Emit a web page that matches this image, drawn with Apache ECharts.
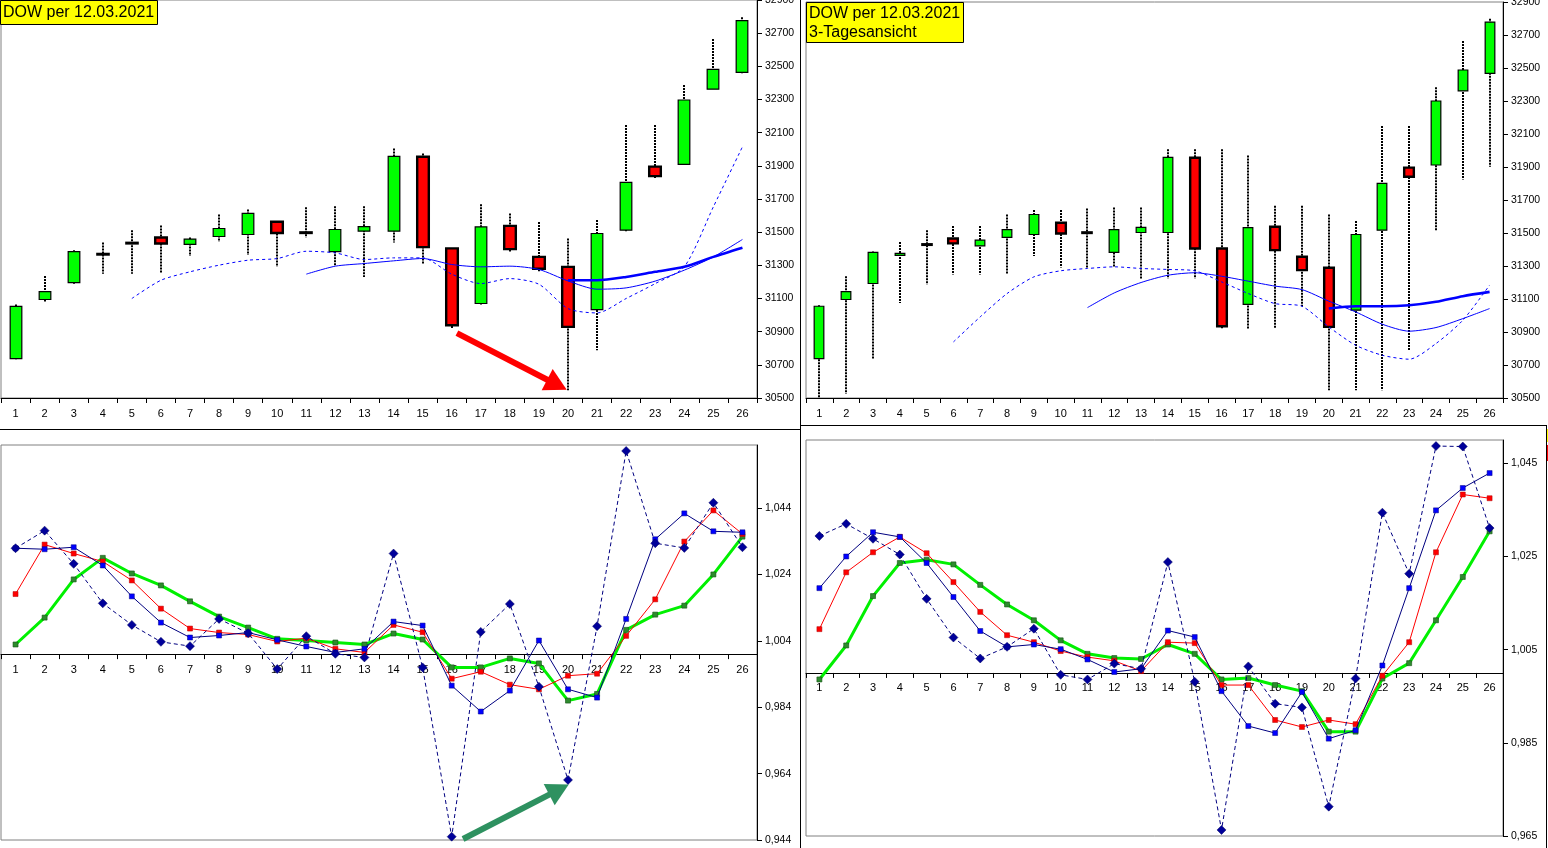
<!DOCTYPE html>
<html>
<head>
<meta charset="utf-8">
<script src="https://cdn.jsdelivr.net/npm/echarts/dist/echarts.min.js"></script>
<style>html,body{margin:0;padding:0;background:#fff;}#c{width:1548px;height:848px;}</style>
</head>
<body>
<div id="c"></div>
<script>
// ---------- DATA ----------
const categories = ['1','2','3','4','5','6','7','8','9','10','11','12','13','14','15','16','17','18','19','20','21','22','23','24','25','26'];

// Day view (top-left)
const dayOpen  = [30737,31094,31196,31365,31434,31468,31426,31474,31486,31563,31500,31383,31506,31506,31955,31402,31070,31538,31351,31291,31033,31512,31895,31909,32362,32464];
const dayClose = [31053,31142,31383,31370,31437,31432,31458,31522,31613,31495,31497,31516,31534,31957,31410,30939,31532,31398,31279,30929,31492,31800,31838,32297,32482,32776];
const dayLow   = [30733,31082,31188,31249,31249,31255,31357,31442,31363,31291,31468,31295,31229,31438,31307,30919,31064,31377,31265,30546,30788,31505,31824,31905,32358,32458];
const dayHigh  = [31064,31235,31391,31438,31512,31540,31468,31607,31637,31565,31651,31657,31657,32005,31975,31405,31669,31613,31561,31462,31573,32146,32146,32388,32665,32796];
const dayMaDashed = [null,null,null,null,31100,31210,31261,31301,31331,31341,31385,31375,31335,31345,31345,31247,31190,31220,31186,31039,31013,31100,31190,31291,31653,32015];
const dayMaThin   = [null,null,null,null,null,null,null,null,null,null,31247,31295,31311,31327,31341,31305,31291,31295,31275,31206,31156,31164,31205,31271,31351,31456];
const dayMaThick  = [null,null,null,null,null,null,null,null,null,null,null,null,null,null,null,null,null,null,null,31210,31210,31230,31261,31291,31351,31406];

// 3-day view (top-right)
const triOpen  = [30739,31097,31194,31364,31430,31467,31422,31473,31491,31562,31505,31382,31503,31503,31956,31406,31068,31538,31356,31289,31032,31517,31896,31912,32361,32468];
const triClose = [31056,31145,31382,31376,31433,31437,31457,31521,31612,31497,31501,31521,31534,31958,31406,30935,31532,31396,31275,30931,31491,31801,31841,32300,32488,32778];
const triLow   = [30502,30526,30733,31076,31188,31248,31248,31254,31360,31291,31289,31291,31224,31224,31224,30921,30921,30921,31056,30547,30547,30547,30789,31511,31825,31902];
const triHigh  = [31062,31238,31388,31445,31517,31542,31542,31612,31639,31639,31649,31655,31655,32007,32007,32007,31970,31665,31665,31612,31572,32148,32148,32383,32664,32798];
const triMaDashed = [null,null,null,null,null,30840,30992,31133,31234,31271,31285,31295,31285,31279,31271,31204,31133,31072,31056,30931,30820,30759,30735,30830,30971,31184];
const triMaThin   = [null,null,null,null,null,null,null,null,null,null,31048,31137,31200,31244,31259,31238,31208,31178,31157,31087,31022,30947,30905,30927,30981,31042];
const triMaThick  = [null,null,null,null,null,null,null,null,null,null,null,null,null,null,null,null,null,null,null,31042,31056,31056,31062,31083,31117,31143];

// Ratio indicators (bottom-left, day view)
const blDashed = [1.0319,1.0372,1.0272,1.0153,1.0088,1.0037,1.0024,1.0106,1.0063,0.9955,1.0054,1.0001,0.9990,1.0303,0.9960,0.9450,1.0067,1.0151,0.9902,0.9621,1.0084,1.0612,1.0334,1.0320,1.0456,1.0322];
const blBlue   = [1.0319,1.0316,1.0322,1.0267,1.0174,1.0095,1.0050,1.0056,1.0065,1.0043,1.0023,1.0005,1.0016,1.0098,1.0086,0.9905,0.9827,0.9890,1.0041,0.9894,0.9869,1.0106,1.0346,1.0424,1.0370,1.0367];
const blRed    = [1.0181,1.0330,1.0303,1.0279,1.0222,1.0137,1.0077,1.0065,1.0059,1.0038,1.0048,1.0016,1.0005,1.0088,1.0066,0.9926,0.9947,0.9908,0.9894,0.9935,0.9941,1.0055,1.0165,1.0339,1.0433,1.0362];
const blGreen  = [1.0029,1.0110,1.0225,1.0290,1.0243,1.0207,1.0159,1.0113,1.0080,1.0046,1.0041,1.0035,1.0029,1.0062,1.0044,0.9960,0.9960,0.9987,0.9972,0.9860,0.9880,1.0073,1.0119,1.0146,1.0240,1.0354];

// Ratio indicators (bottom-right, 3-day view)
const brDashed = [1.0294,1.0320,1.0288,1.0254,1.0159,1.0076,1.0031,1.0056,1.0095,0.9996,0.9986,1.0020,1.0009,1.0238,0.9981,0.9663,1.0014,0.9934,0.9926,0.9713,0.9988,1.0344,1.0213,1.0487,1.0486,1.0311];
const brBlue   = [1.0182,1.0250,1.0302,1.0292,1.0236,1.0163,1.0090,1.0056,1.0061,1.0051,1.0029,1.0002,1.0009,1.0091,1.0077,0.9961,0.9886,0.9871,0.9959,0.9859,0.9877,1.0016,1.0182,1.0349,1.0397,1.0429];
const brRed    = [1.0094,1.0216,1.0259,1.0292,1.0257,1.0195,1.0131,1.0081,1.0066,1.0047,1.0034,1.0026,1.0004,1.0066,1.0064,0.9974,0.9974,0.9899,0.9884,0.9899,0.9890,0.9994,1.0066,1.0259,1.0383,1.0375];
const brGreen  = [0.9986,1.0059,1.0165,1.0236,1.0243,1.0233,1.0189,1.0147,1.0113,1.0070,1.0041,1.0032,1.0030,1.0061,1.0041,0.9986,0.9989,0.9974,0.9961,0.9874,0.9874,0.9988,1.0021,1.0113,1.0206,1.0304];

// Axis ranges / ticks
const priceMin = 30500, priceMax = 32900, priceStep = 200;
const blMin = 0.944, blMax = 1.063, brMin = 0.965, brMax = 1.05, ratioStep = 0.02, ratioBase = 1.0;

// Annotation arrows (in data units: category index, value)
const redArrow   = [[15.18, 30891], [18.62, 30580]];
const greenArrow = [[15.39, 0.9443], [18.69, 0.9592]];

const titleLeft  = 'DOW per 12.03.2021';
const titleRight = 'DOW per 12.03.2021\n3-Tagesansicht';

// ---------- CHART ----------
const FONT = 'Liberation Sans, Arial, sans-serif';
const G = [
  {left: 1,   top: 0,   width: 756, height: 398},
  {left: 806, top: 2,   width: 697, height: 396},
  {left: 1,   top: 445, width: 756, height: 395},
  {left: 806, top: 440, width: 697, height: 396}
];

function candleData(o, c, l, h) {
  return o.map((v, i) => [i, o[i], c[i], l[i], h[i]]);
}
function candleRender(ratio) {
  return function (params, api) {
    const i = api.value(0);
    const o = api.value(1), c = api.value(2), l = api.value(3), h = api.value(4);
    const pO = api.coord([i, o]), pC = api.coord([i, c]);
    const pL = api.coord([i, l]), pH = api.coord([i, h]);
    const w = api.size([1, 0])[0] * ratio;
    const x = Math.round(pO[0]);
    const top = Math.min(pO[1], pC[1]), bot = Math.max(pO[1], pC[1]);
    const up = c >= o;
    const flat = (bot - top) < 1.5;
    return {
      type: 'group',
      children: [
        {type: 'line', shape: {x1: x, y1: pH[1], x2: x, y2: pL[1]},
         style: {stroke: '#000', lineWidth: 2, lineDash: [2, 1]}},
        {type: 'rect', shape: {x: x - w / 2, y: top, width: w, height: Math.max(bot - top, 1)},
         style: {fill: flat ? '#000' : (up ? '#00FF00' : '#FF0000'), stroke: '#000',
                 lineWidth: flat ? 2 : (up ? 1.2 : 2.4)}}
      ]
    };
  };
}

function catAxis(gi, opts) {
  return Object.assign({
    type: 'category', gridIndex: gi, data: categories, boundaryGap: true, position: 'bottom',
    axisLine: {show: true, onZero: false, lineStyle: {color: '#000', width: 1}},
    axisTick: {show: true, alignWithLabel: false, length: 5, lineStyle: {color: '#000'}},
    axisLabel: {interval: 0, color: '#000', fontFamily: FONT, fontSize: 11, margin: 10},
    splitLine: {show: false}
  }, opts || {});
}
function valAxis(gi, min, max, step, fmt, hideMax) {
  return {
    type: 'value', gridIndex: gi, position: 'right', min: min, max: max, interval: step, scale: true,
    axisLine: {show: true, onZero: false, lineStyle: {color: '#000', width: 1}},
    axisTick: {show: true, length: 5, lineStyle: {color: '#000'}},
    axisLabel: {color: '#000', fontFamily: FONT, fontSize: 10.5, margin: 8, formatter: fmt,
                showMaxLabel: !hideMax, showMinLabel: true},
    splitLine: {show: false}
  };
}
const priceFmt = v => String(Math.round(v));
const ratioFmt = v => v.toFixed(3).replace('.', ',');

const blOffset = -(ratioBase - blMin) / (blMax - blMin) * G[2].height;
const brOffset = -(ratioBase - brMin) / (brMax - brMin) * G[3].height;

function maLine(name, xi, yi, data, width, dashed) {
  return {
    name: name, type: 'line', xAxisIndex: xi, yAxisIndex: yi, data: data,
    showSymbol: false, symbol: 'none', smooth: 0.25, connectNulls: false, silent: true,
    lineStyle: {color: '#0000FF', width: width, type: dashed ? [3, 3] : 'solid'}, z: 3
  };
}
function ratioLine(name, xi, yi, data, kind) {
  const s = {name: name, type: 'line', xAxisIndex: xi, yAxisIndex: yi, data: data, silent: true, showSymbol: true};
  if (kind === 'dashed') {
    s.symbol = 'diamond'; s.symbolSize = 9;
    s.lineStyle = {color: '#000080', width: 1, type: [4, 3]};
    s.itemStyle = {color: '#00009A', borderColor: '#000060', borderWidth: 0.5};
    s.z = 6;
  } else if (kind === 'blue') {
    s.symbol = 'rect'; s.symbolSize = 5;
    s.lineStyle = {color: '#000080', width: 1};
    s.itemStyle = {color: '#0000FF', borderColor: '#000080', borderWidth: 0.5};
    s.z = 5;
  } else if (kind === 'red') {
    s.symbol = 'rect'; s.symbolSize = 5;
    s.lineStyle = {color: '#FF0000', width: 1};
    s.itemStyle = {color: '#FF0000', borderColor: '#B00000', borderWidth: 0.5};
    s.z = 4;
  } else {
    s.symbol = 'rect'; s.symbolSize = 5;
    s.lineStyle = {color: '#00F000', width: 3};
    s.itemStyle = {color: '#2E8B2E', borderColor: '#145214', borderWidth: 0.6};
    s.z = 3;
  }
  return s;
}
function arrowSeries(xi, yi, pts, color, width, size) {
  return {
    type: 'line', xAxisIndex: xi, yAxisIndex: yi, data: pts, silent: true,
    showSymbol: false, symbol: 'none', lineStyle: {opacity: 0, width: 0}, z: 10,
    markLine: {
      silent: true, animation: false, symbol: ['none', 'triangle'], symbolSize: size,
      label: {show: false}, lineStyle: {color: color, width: width, type: 'solid', opacity: 1},
      emphasis: {disabled: true},
      data: [[{coord: pts[0]}, {coord: pts[1]}]]
    }
  };
}

const option = {
  animation: false,
  backgroundColor: '#ffffff',
  textStyle: {fontFamily: FONT},
  title: [
    {text: titleLeft, left: 0, top: 0, backgroundColor: '#FFFF00', borderColor: '#000', borderWidth: 1,
     padding: [3, 4, 3, 3], textStyle: {fontSize: 16, fontWeight: 'normal', color: '#000', fontFamily: FONT, lineHeight: 19}},
    {text: titleRight, left: 806, top: 2, backgroundColor: '#FFFF00', borderColor: '#000', borderWidth: 1,
     padding: [2, 4, 1, 3], textStyle: {fontSize: 16, fontWeight: 'normal', color: '#000', fontFamily: FONT, lineHeight: 19}}
  ],
  grid: G.map(g => Object.assign({show: true, borderColor: '#808080', borderWidth: 1, backgroundColor: 'transparent',
                                   containLabel: false, outerBoundsMode: 'none'}, g)),
  xAxis: [
    catAxis(0),
    catAxis(1),
    catAxis(2, {offset: blOffset}),
    catAxis(3, {offset: brOffset}),
    {type: 'value', gridIndex: 0, min: -0.5, max: categories.length - 0.5, show: false},
    {type: 'value', gridIndex: 2, min: -0.5, max: categories.length - 0.5, show: false}
  ],
  yAxis: [
    valAxis(0, priceMin, priceMax, priceStep, priceFmt, false),
    valAxis(1, priceMin, priceMax, priceStep, priceFmt, false),
    valAxis(2, blMin, blMax, ratioStep, ratioFmt, true),
    valAxis(3, brMin, brMax, ratioStep, ratioFmt, true)
  ],
  series: [
    // top-left
    maLine('dayMaDashed', 0, 0, dayMaDashed, 1, true),
    maLine('dayMaThin', 0, 0, dayMaThin, 1, false),
    {type: 'custom', name: 'dayCandles', xAxisIndex: 0, yAxisIndex: 0, renderItem: candleRender(0.4),
     data: candleData(dayOpen, dayClose, dayLow, dayHigh), encode: {x: 0, y: [1, 2, 3, 4]}, z: 2, silent: true},
    maLine('dayMaThick', 0, 0, dayMaThick, 2.6, false),
    arrowSeries(4, 0, redArrow, '#FF0000', 6, [24, 22]),
    // top-right
    maLine('triMaDashed', 1, 1, triMaDashed, 1, true),
    maLine('triMaThin', 1, 1, triMaThin, 1, false),
    {type: 'custom', name: 'triCandles', xAxisIndex: 1, yAxisIndex: 1, renderItem: candleRender(0.36),
     data: candleData(triOpen, triClose, triLow, triHigh), encode: {x: 0, y: [1, 2, 3, 4]}, z: 2, silent: true},
    maLine('triMaThick', 1, 1, triMaThick, 2.6, false),
    // bottom-left
    ratioLine('blGreen', 2, 2, blGreen, 'green'),
    ratioLine('blRed', 2, 2, blRed, 'red'),
    ratioLine('blBlue', 2, 2, blBlue, 'blue'),
    ratioLine('blDashed', 2, 2, blDashed, 'dashed'),
    arrowSeries(5, 2, greenArrow, '#2E9160', 6, [24, 22]),
    // bottom-right
    ratioLine('brGreen', 3, 3, brGreen, 'green'),
    ratioLine('brRed', 3, 3, brRed, 'red'),
    ratioLine('brBlue', 3, 3, brBlue, 'blue'),
    ratioLine('brDashed', 3, 3, brDashed, 'dashed')
  ],
  graphic: [
    {type: 'line', silent: true, shape: {x1: 800.5, y1: 0, x2: 800.5, y2: 848}, style: {stroke: '#000', lineWidth: 1}},
    {type: 'line', silent: true, shape: {x1: 0, y1: 429.5, x2: 800, y2: 429.5}, style: {stroke: '#000', lineWidth: 1}},
    {type: 'line', silent: true, shape: {x1: 800, y1: 425.5, x2: 1546, y2: 425.5}, style: {stroke: '#000', lineWidth: 1}},
    {type: 'line', silent: true, shape: {x1: 1546.5, y1: 425, x2: 1546.5, y2: 848}, style: {stroke: '#000', lineWidth: 1}},
    {type: 'rect', silent: true, shape: {x: 1547, y: 429, width: 1, height: 13}, style: {fill: '#FFFF00'}},
    {type: 'rect', silent: true, shape: {x: 1547, y: 445, width: 1, height: 16}, style: {fill: '#FF0000'}}
  ]
};

const chart = echarts.init(document.getElementById('c'), null, {renderer: 'canvas'});
chart.setOption(option);
</script>
</body>
</html>
